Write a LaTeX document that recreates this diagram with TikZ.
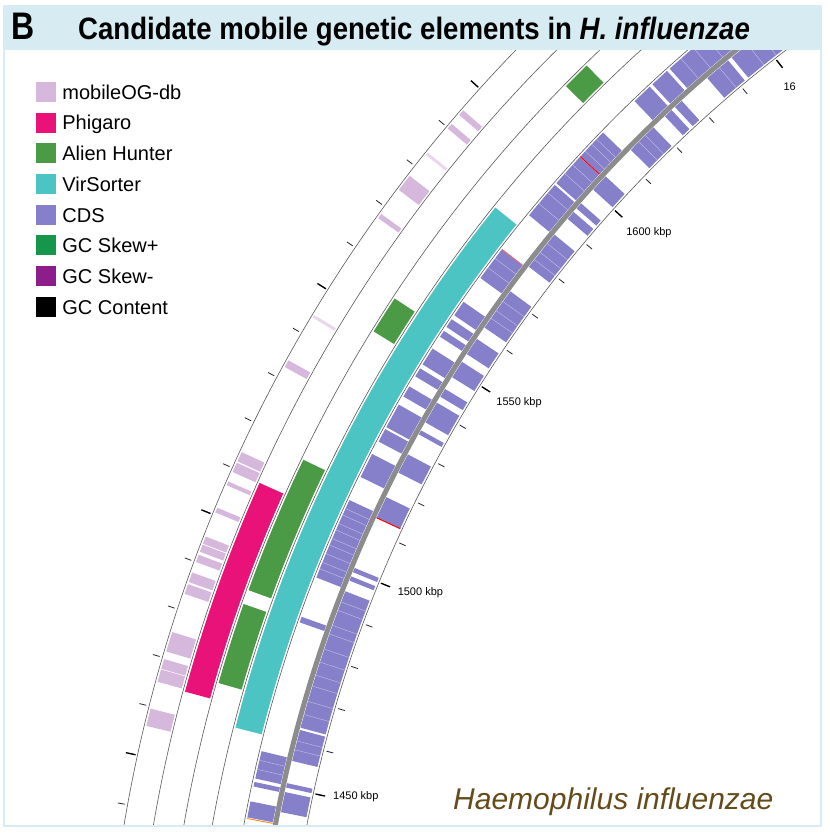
\documentclass[tikz,border=0pt]{standalone}
\usepackage{graphicx}
\usepackage{fontspec}
\setmainfont{Liberation Sans}
\usetikzlibrary{positioning}
\definecolor{bandcolor}{RGB}{214,236,242}
\definecolor{mobilecolor}{RGB}{214,184,221}
\definecolor{phigarocolor}{RGB}{232,18,120}
\definecolor{aliencolor}{RGB}{74,154,70}
\definecolor{virscolor}{RGB}{76,196,196}
\definecolor{cdscolor}{RGB}{134,128,202}
\definecolor{skewpcolor}{RGB}{22,150,74}
\definecolor{skewmcolor}{RGB}{140,30,140}
\definecolor{speciescolor}{RGB}{100,75,25}
% ring segment: [style] r1 r2 a1 a2
\newcommand{\ringseg}[5][]{\pgfmathsetmacro\segA{#4}\pgfmathsetmacro\segB{#5}%
  \fill[#1] (\segA:#2) arc[start angle=\segA,end angle=\segB,radius=#2] -- (\segB:#3) arc[start angle=\segB,end angle=\segA,radius=#3] -- cycle;}
\begin{document}
\begin{tikzpicture}[x=1pt,y=1pt,
  ringline/.style={draw=black!65,line width=0.6pt},
  tickmark/.style={draw=black!85,line width=0.8pt},
  majortick/.style={draw=black,line width=1.3pt},
  gcline/.style={draw=black!45,line width=5pt},
  hair/.style={draw=cdscolor!45!white,line width=0.35pt},
  legbox/.style={minimum size=20pt,inner sep=0pt},
  legtext/.style={font=\fontsize{20}{24}\selectfont,text height=14.5pt,text depth=0pt,inner sep=0pt},
  kbplabel/.style={font=\fontsize{11}{13}\selectfont,inner sep=0pt}]
\useasboundingbox (0,0) rectangle (829,834);
\fill[white] (0,0) rectangle (829,834);
% circular plot, centre far outside the frame
\begin{scope}
\clip (5,8) rectangle (795,783);
\begin{scope}[shift={(1563,-232)}]
\foreach \c/\w in {139.13/0.12,139.83/0.12,142.69/0.35,144.31/0.1,151.18/0.15,155.28/0.2,155.74/0.2,156.43/0.08,157.57/0.1,158.84/0.15,159.18/0.15,159.61/0.15,160.40/0.2,160.89/0.2,163.07/0.4,163.98/0.2,164.46/0.25,166.15/0.35}
  \ringseg[mobilecolor]{1432}{1457}{\c-\w}{\c+\w};
\foreach \c in {141.24,149.04}
  \ringseg[mobilecolor!55]{1432}{1457}{\c-0.06}{\c+0.06};
\ringseg[phigarocolor]{1402}{1428}{155.9}{164.8}
\foreach \a/\b in {134.3/135.5,146.7/148.3,154.3/160.1,160.7/164.1}
  \ringseg[aliencolor]{1374}{1398}{\a}{\b};
\ringseg[virscolor]{1343}{1370}{141.2}{165.7}
% CDS, forward and reverse strand
\foreach \a/\b in {126/131.85,132.0/132.85,133.0/133.9,135.8/137.2,137.25/138.75,138.85/140.55,142.4/143.95,145.2/145.9,146.1/146.5,146.7/147.0,147.6/148.4,148.6/149.0,149.5/150.0,150.4/151.5,151.6/152.2,152.8/153.9,155.0/158.6,160.4/160.65,166.4/167.6,167.75/167.95,168.6/169.3}
  \ringseg[cdscolor]{1313}{1339}{\a}{\b};
\foreach \a/\b in {126/129.5,129.7/130.9,132.4/132.8,133.0/133.4,134.1/135.5,137.1/137.9,138.7/139.0,139.2/139.6,140.5/142.3,143.65/145.6,146.2/147.0,147.4/148.2,148.8/149.2,149.5/150.5,150.9/151.1,152.1/153.0,154.2/155.2,157.6/157.8,158.0/158.2,158.7/165.0,165.1/166.5,167.5/167.7,167.9/168.8}
  \ringseg[cdscolor]{1281}{1307}{\a}{\b};
\foreach \a in {127.0,127.6,128.3,129.1,129.8,130.5,131.2,136.2,136.5,136.9,137.7,138.2,139.3,139.9,142.9,143.4,155.4,155.7,156.1,156.4,156.8,157.1,157.5,157.9,158.2,166.8,167.2}
  \draw[hair] (\a:1313) -- (\a:1339);
\foreach \a in {127.2,127.9,128.6,130.2,134.6,135.0,141.0,141.5,141.9,144.2,144.7,145.1,159.2,159.6,160.3,160.7,161.4,162.0,162.6,163.1,163.8,164.4,165.6,166.0}
  \draw[hair] (\a:1281) -- (\a:1307);
\draw[red,line width=1pt] (137.22:1313) -- (137.22:1339);
\draw[red!60,line width=0.8pt] (142.42:1313) -- (142.42:1339);
\draw[red,line width=1pt] (155.2:1281) -- (155.2:1307);
\draw[orange,line width=0.8pt] (169.35:1313) -- (169.35:1339);
% ring lines and GC content
\foreach \r in {1459,1430,1400,1372,1341,1279}
  \draw[ringline] (124:\r) arc[start angle=124,end angle=173,radius=\r];
\draw[gcline] (124:1310) arc[start angle=124,end angle=173,radius=1310];
% scale
\foreach \k in {1430,1440,...,1660}{
  \pgfmathsetmacro\a{167.7-0.1984*(\k-1450)}
  \draw[tickmark] (\a:1462) -- (\a:1469);
  \draw[tickmark] (\a:1276) -- (\a:1269);
}
\foreach \k in {1450,1500,...,1650}{
  \pgfmathsetmacro\a{167.7-0.1984*(\k-1450)}
  \pgfmathsetmacro\b{\a-0.3}
  \draw[majortick] (\a:1461) -- (\a:1471);
  \draw[majortick] (\a:1277) -- (\a:1267);
  \node[kbplabel] (kbp\k) at (\b:1237) {\k\ kbp};
}
\end{scope}
\end{scope}
% frame and title band
\draw[bandcolor,line width=1.2pt] (4,8) rectangle (821,828);
\fill[bandcolor] (4,784) rectangle (821,828);
\node[anchor=base west,inner sep=0pt,font=\bfseries\fontsize{32}{38}\selectfont] (panel) at (11,794) {\scalebox{1}[1.2]{B}};
\node[anchor=base west,inner sep=0pt,font=\bfseries\fontsize{27.6}{32}\selectfont] (title) at (78,794) {\scalebox{1}[1.12]{Candidate mobile genetic elements in \textit{H. influenzae}}};
% legend
\foreach \name/\col [count=\i] in {mobileOG-db/mobilecolor,Phigaro/phigarocolor,Alien Hunter/aliencolor,VirSorter/virscolor,CDS/cdscolor,GC Skew+/skewpcolor,GC Skew-/skewmcolor,GC Content/black}{
  \node[legbox,fill=\col] (box\i) at (46,742-30.7*\i+30.7) {};
  \node[legtext,right=6pt of box\i] (item\i) {\name};
}
\node[anchor=base west,inner sep=0pt,text=speciescolor,font=\itshape\fontsize{30}{36}\selectfont] (species) at (453,24) {Haemophilus influenzae};
\end{tikzpicture}
\end{document}
